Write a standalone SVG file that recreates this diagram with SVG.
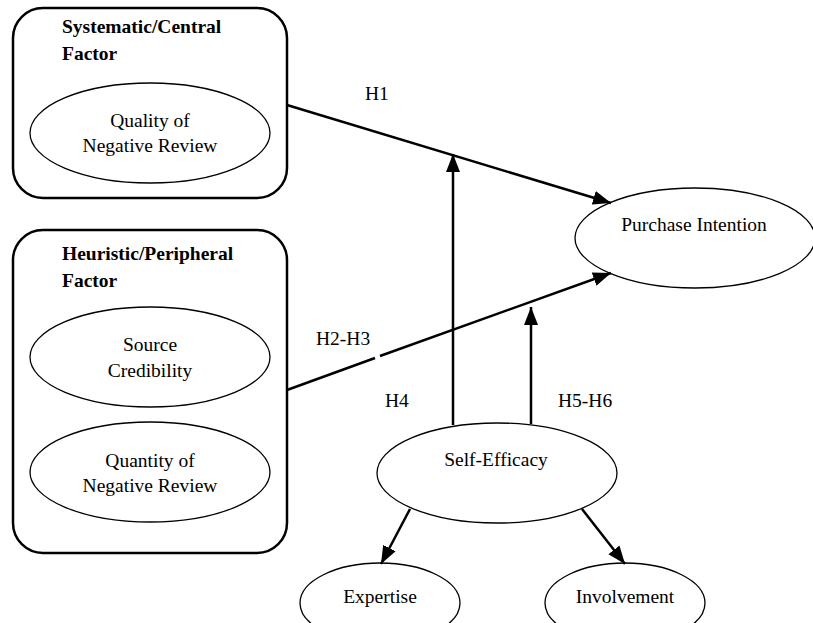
<svg xmlns="http://www.w3.org/2000/svg" width="813" height="623" viewBox="0 0 813 623" font-family="Liberation Serif, Times New Roman, serif" font-size="19.5">
<style>
.t{font-weight:bold}
.box{fill:none;stroke:#000;stroke-width:2.5}
.el{fill:#fff;stroke:#000;stroke-width:1.3}
.c{fill:none;stroke:#000;stroke-width:2.5}
.m{text-anchor:middle}
</style>
<defs>
<marker id="ah" markerUnits="userSpaceOnUse" markerWidth="20" markerHeight="16" viewBox="0 0 20 16" refX="18" refY="8" orient="auto">
<path d="M0,1 L18,8 L0,15 Z" fill="#000"/>
</marker>
</defs>
<rect width="813" height="623" fill="#fff"/>
<g id="systematic">
<rect class="box" x="13" y="8" width="274" height="190" rx="30"/>
<text class="t" x="62" y="33">Systematic/Central</text>
<text class="t" x="62" y="60">Factor</text>
</g>
<g id="quality">
<ellipse class="el" cx="150" cy="133" rx="120" ry="50"/>
<text class="m" x="150" y="127">Quality of</text>
<text class="m" x="150" y="152">Negative Review</text>
</g>
<g id="heuristic">
<rect class="box" x="13" y="230" width="274" height="323" rx="30"/>
<text class="t" x="62" y="260">Heuristic/Peripheral</text>
<text class="t" x="62" y="287">Factor</text>
</g>
<g id="source">
<ellipse class="el" cx="150" cy="357" rx="120" ry="50"/>
<text class="m" x="150" y="351">Source</text>
<text class="m" x="150" y="377">Credibility</text>
</g>
<g id="quantity">
<ellipse class="el" cx="150" cy="472" rx="120" ry="50"/>
<text class="m" x="150" y="467">Quantity of</text>
<text class="m" x="150" y="492">Negative Review</text>
</g>
<g id="purchase">
<ellipse class="el" cx="695" cy="238" rx="120" ry="50"/>
<text class="m" x="694" y="231">Purchase Intention</text>
</g>
<g id="selfefficacy">
<ellipse class="el" cx="497" cy="473" rx="120" ry="50"/>
<text class="m" x="496" y="466">Self-Efficacy</text>
</g>
<g id="expertise">
<ellipse class="el" cx="380" cy="603" rx="80" ry="40"/>
<text class="m" x="380" y="603">Expertise</text>
</g>
<g id="involvement">
<ellipse class="el" cx="625" cy="603" rx="80" ry="40"/>
<text class="m" x="625" y="603">Involvement</text>
</g>
<g id="connectors">
<line class="c" x1="287" y1="105" x2="611" y2="203" marker-end="url(#ah)"/>
<line class="c" x1="287" y1="390" x2="375" y2="358"/>
<line class="c" x1="380" y1="356" x2="611" y2="273" marker-end="url(#ah)"/>
<line class="c" x1="453" y1="425" x2="453" y2="154" marker-end="url(#ah)"/>
<line class="c" x1="531" y1="424" x2="531" y2="307" marker-end="url(#ah)"/>
<line class="c" x1="410" y1="509" x2="381" y2="564" marker-end="url(#ah)"/>
<line class="c" x1="582" y1="509" x2="625" y2="564" marker-end="url(#ah)"/>
<text x="365" y="100">H1</text>
<text x="316" y="345">H2-H3</text>
<text x="385" y="407">H4</text>
<text x="558" y="407">H5-H6</text>
</g>
</svg>
